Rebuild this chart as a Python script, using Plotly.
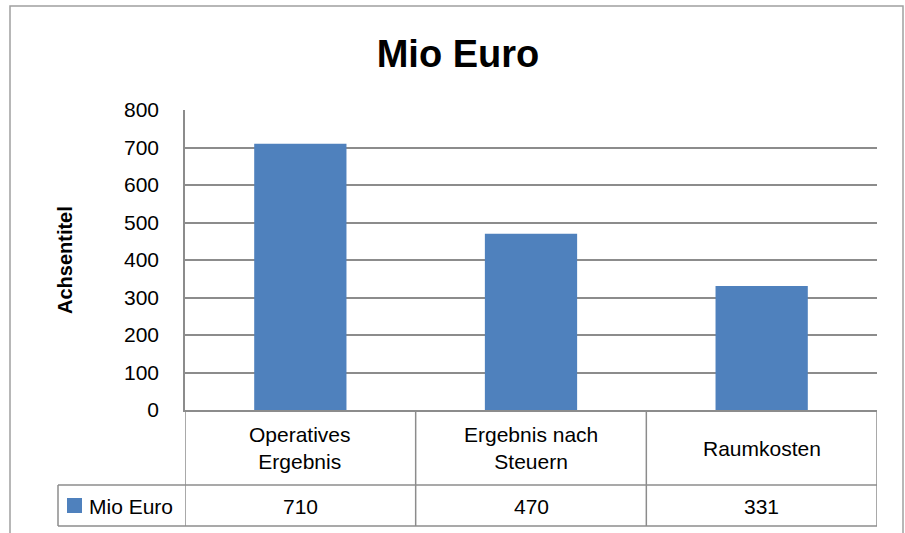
import plotly.graph_objects as go

# ---- data ----
categories = ["Operatives Ergebnis", "Ergebnis nach Steuern", "Raumkosten"]
category_labels = ["Operatives<br>Ergebnis", "Ergebnis nach<br>Steuern", "Raumkosten"]
values = [710, 470, 331]
series_name = "Mio Euro"
title_text = "Mio Euro"
y_title = "Achsentitel"
y_ticks = [0, 100, 200, 300, 400, 500, 600, 700, 800]

# ---- geometry helpers ----
W, H = 905, 533
def px(x):
    return x / W
def py(y):
    return 1 - y / H

BAR = "#4f81bd"
GRID = "#8c8c8c"
FONT = "Liberation Sans, Arial, sans-serif"

fig = go.Figure()
fig.add_trace(go.Bar(
    x=categories, y=values, name=series_name,
    marker=dict(color=BAR, line=dict(width=0)),
    width=0.4, showlegend=False, hoverinfo="x+y",
))

fig.update_layout(
    width=W, height=H, autosize=False,
    margin=dict(l=0, r=0, t=0, b=0, pad=0),
    paper_bgcolor="white", plot_bgcolor="white",
    font=dict(family=FONT, size=21, color="#000000"),
    title=dict(text="<b>" + title_text + "</b>", x=px(458), xref="paper", xanchor="center",
               y=py(54), yref="container", yanchor="middle", automargin=False,
               font=dict(family=FONT, size=38, color="#000000")),
    xaxis=dict(domain=[px(185), px(877)], type="category", range=[-0.5, 2.5],
               automargin=False,
               showticklabels=False, showgrid=False, zeroline=False,
               showline=True, linecolor=GRID, linewidth=1.5, ticks=""),
    yaxis=dict(domain=[py(410), py(110)], range=[0, 800], tickvals=y_ticks,
               automargin=False,
               showgrid=True, gridcolor=GRID, gridwidth=1.5, zeroline=False,
               showline=True, linecolor=GRID, linewidth=1.5, ticks="",
               ticklabelstandoff=20, tickfont=dict(family=FONT, size=21, color="#000000")),
)

shapes = []
line = dict(color=GRID, width=1.5)
# outer chart border
shapes.append(dict(type="rect", xref="paper", yref="paper",
                   x0=px(10), x1=px(903), y0=py(560), y1=py(6),
                   line=dict(color="#a0a0a0", width=1.5), layer="below"))
# data table: vertical lines at category boundaries
for b in [-0.5, 0.5, 1.5, 2.5]:
    shapes.append(dict(type="line", xref="x", yref="paper", x0=b, x1=b,
                       y0=py(410), y1=py(526), line=line))
# legend cell left border
shapes.append(dict(type="line", xref="paper", yref="paper", x0=px(58), x1=px(58),
                   y0=py(485), y1=py(526), line=line))
# horizontal table lines
for yy in [485, 526]:
    shapes.append(dict(type="line", xref="paper", yref="paper", x0=px(58), x1=px(877),
                       y0=py(yy), y1=py(yy), line=line))
# legend key swatch
shapes.append(dict(type="rect", xref="paper", yref="paper", x0=px(67), x1=px(82),
                   y0=py(513), y1=py(498), fillcolor=BAR, line=dict(width=0)))

annotations = []
for c, lab, v in zip(categories, category_labels, values):
    annotations.append(dict(x=c, xref="x", y=py(448), yref="paper", text=lab,
                            showarrow=False, xanchor="center", yanchor="middle",
                            font=dict(family=FONT, size=21, color="#000000")))
    annotations.append(dict(x=c, xref="x", y=py(506), yref="paper", text=str(v),
                            showarrow=False, xanchor="center", yanchor="middle",
                            font=dict(family=FONT, size=21, color="#000000")))
annotations.append(dict(x=px(87), xref="paper", y=py(506), yref="paper", text=series_name,
                        showarrow=False, xanchor="left", yanchor="middle",
                        font=dict(family=FONT, size=21, color="#000000")))
annotations.append(dict(x=px(65), xref="paper", y=py(260), yref="paper",
                        text="<b>" + y_title + "</b>", textangle=-90, showarrow=False,
                        xanchor="center", yanchor="middle",
                        font=dict(family=FONT, size=20, color="#000000")))

fig.update_layout(shapes=shapes, annotations=annotations)
fig.write_html("out.html", config={"displayModeBar": False},
               post_script="document.body.style.margin='0';document.body.style.overflow='hidden';")
